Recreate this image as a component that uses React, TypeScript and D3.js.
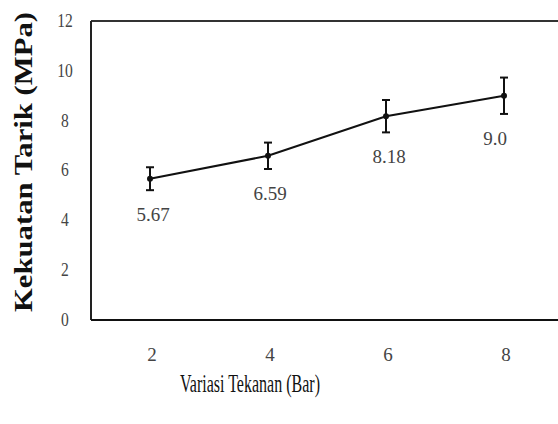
import React from "react";
import * as d3 from "d3";

const pressures = [2, 4, 6, 8];
const strength = [5.67, 6.59, 8.18, 9.0];
const errors = [0.46, 0.53, 0.65, 0.73];
const pointLabels = ["5.67", "6.59", "8.18", "9.0"];
const yTicks = [0, 2, 4, 6, 8, 10, 12];
const xTicks = [2, 4, 6, 8];
const labelDx = [3, 2, 3, -9];

export default function App() {
  const W = 558, H = 424;
  const left = 91, top = 21, bottom = 320;
  const x = d3.scaleLinear().domain([2, 8]).range([150, 504]);
  const y = d3.scaleLinear().domain([0, 12]).range([bottom, top]);
  const line = d3.line<number>().x((_, i) => x(pressures[i])).y((d) => y(d));
  const font = "Liberation Serif";
  return (
    <svg width={W} height={H} style={{ position: "absolute", left: 0, top: 0, background: "#fff" }}>
      <rect x={0} y={0} width={W} height={H} fill="#fff" />
      <line x1={left} y1={top} x2={W} y2={top} stroke="#333" strokeWidth={2} />
      <line x1={left} y1={top} x2={left} y2={bottom} stroke="#222" strokeWidth={2} />
      <line x1={left} y1={bottom} x2={W} y2={bottom} stroke="#111" strokeWidth={2} />
      {yTicks.map((t) => (
        <text key={t} x={65} y={y(t) + 6} textAnchor="middle" fontFamily={font} fontSize={19} fill="#444"
          transform={`translate(65 0) scale(0.82 1) translate(-65 0)`}>{t}</text>
      ))}
      {xTicks.map((t) => (
        <text key={t} x={x(t) + 2} y={361} textAnchor="middle" fontFamily={font} fontSize={19} fill="#444">{t}</text>
      ))}
      <path d={line(strength) || ""} fill="none" stroke="#111" strokeWidth={2} />
      {strength.map((v, i) => {
        const cx = x(pressures[i]);
        return (
          <g key={i} stroke="#111" strokeWidth={2}>
            <line x1={cx} x2={cx} y1={y(v + errors[i])} y2={y(v - errors[i])} />
            <line x1={cx - 4} x2={cx + 4} y1={y(v + errors[i])} y2={y(v + errors[i])} />
            <line x1={cx - 4} x2={cx + 4} y1={y(v - errors[i])} y2={y(v - errors[i])} />
            <circle cx={cx} cy={y(v)} r={3} fill="#111" stroke="none" />
          </g>
        );
      })}
      {strength.map((v, i) => (
        <text key={i} x={x(pressures[i]) + labelDx[i]} y={y(v - errors[i]) + 31} textAnchor="middle"
          fontFamily={font} fontSize={19} fill="#444">{pointLabels[i]}</text>
      ))}
      <text x={250} y={392} textAnchor="middle" fontFamily={font} fontSize={26} fill="#111"
        textLength={140} lengthAdjust="spacingAndGlyphs">Variasi Tekanan (Bar)</text>
      <text transform="translate(32 162) rotate(-90)" textAnchor="middle" fontFamily={font} fontSize={26}
        fontWeight="bold" fill="#111" textLength={300} lengthAdjust="spacingAndGlyphs">Kekuatan Tarik (MPa)</text>
    </svg>
  );
}
